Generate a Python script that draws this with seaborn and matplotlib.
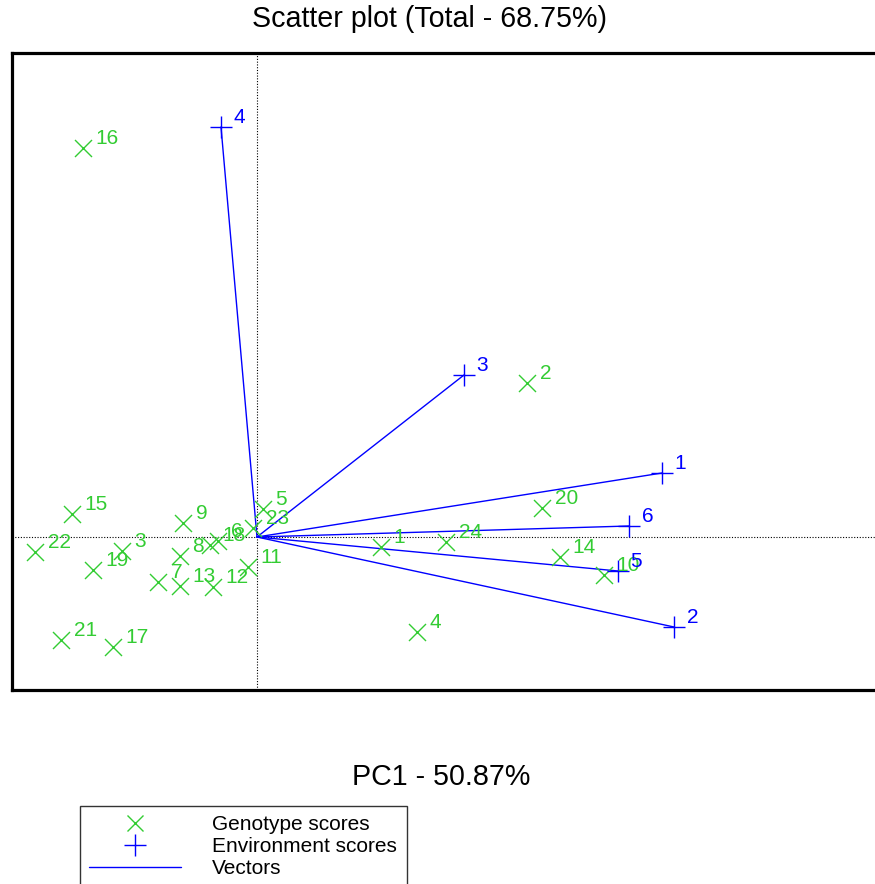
import matplotlib
matplotlib.use("Agg")
import matplotlib.pyplot as plt
from matplotlib.lines import Line2D
import seaborn as sns
import pandas as pd

# Genotype scores (PC1, PC2)
geno_labels = ["1", "2", "3", "4", "5", "6", "7", "8", "9", "10", "11", "12",
               "13", "14", "15", "16", "17", "18", "19", "20", "21", "22", "23", "24"]
geno_pc1 = [1.24, 2.70, -1.35, 1.60, 0.06, -0.39, -0.99, -0.77, -0.74, 3.47, -0.09, -0.44,
            -0.77, 3.03, -1.85, -1.74, -1.44, -0.47, -1.64, 2.85, -1.96, -2.22, -0.04, 1.89]
geno_pc2 = [-0.10, 1.54, -0.14, -0.95, 0.28, -0.04, -0.45, -0.19, 0.14, -0.38, -0.30, -0.50,
            -0.49, -0.20, 0.23, 3.89, -1.10, -0.08, -0.33, 0.29, -1.03, -0.15, 0.09, -0.05]

# Environment scores (PC1, PC2)
env_labels = ["1", "2", "3", "4", "5", "6"]
env_pc1 = [4.05, 4.17, 2.07, -0.36, 3.61, 3.72]
env_pc2 = [0.64, -0.90, 1.62, 4.10, -0.34, 0.11]

title = "Scatter plot (Total - 68.75%)"
xlabel = "PC1 - 50.87%"
legend_labels = ["Genotype scores", "Environment scores", "Vectors"]

GREEN = "#33cc33"
BLUE = "#0000ff"

sns.set_style("white")
plt.rcParams["font.family"] = ["Liberation Sans", "DejaVu Sans"]
plt.rcParams["text.color"] = "black"

geno = pd.DataFrame({"pc1": geno_pc1, "pc2": geno_pc2, "label": geno_labels})
env = pd.DataFrame({"pc1": env_pc1, "pc2": env_pc2, "label": env_labels})

fig = plt.figure(figsize=(8.75, 8.84), dpi=100)
W, H = 875, 884
ax = fig.add_axes([12 / W, 1 - 690 / H, 888 / W, 637 / H])

ax.axhline(0, color="black", lw=0.8, ls=(0, (1, 1.5)), zorder=1)
ax.axvline(0, color="black", lw=0.8, ls=(0, (1, 1.5)), zorder=1)

for _, r in env.iterrows():
    ax.plot([0, r.pc1], [0, r.pc2], color=BLUE, lw=1.0, zorder=2)

sns.scatterplot(data=geno, x="pc1", y="pc2", marker="x", color=GREEN, s=150,
                linewidth=1.0, ax=ax, zorder=3, legend=False)
sns.scatterplot(data=env, x="pc1", y="pc2", marker="+", color=BLUE, s=260,
                linewidth=1.0, ax=ax, zorder=4, legend=False)

for _, r in geno.iterrows():
    ax.annotate(r.label, (r.pc1, r.pc2), xytext=(9, 6.5), textcoords="offset points",
                color=GREEN, fontsize=15, ha="left", va="center", zorder=5)
for _, r in env.iterrows():
    ax.annotate(r.label, (r.pc1, r.pc2), xytext=(9, 6.5), textcoords="offset points",
                color=BLUE, fontsize=15, ha="left", va="center", zorder=5)

ax.set_xlim(-2.45, 6.43)
ax.set_ylim(-1.53, 4.84)
ax.set_xticks([])
ax.set_yticks([])
ax.set_xlabel("")
ax.set_ylabel("")
for s in ax.spines.values():
    s.set_linewidth(2.3)
    s.set_color("black")

fig.text(430 / W, 1 - 19 / H, title, ha="center", va="center", fontsize=20.6)
fig.text(441 / W, 1 - 777 / H, xlabel, ha="center", va="center", fontsize=20.6)

handles = [
    Line2D([], [], marker="x", color=GREEN, ls="none", markersize=12, mew=1.0),
    Line2D([], [], marker="+", color=BLUE, ls="none", markersize=16, mew=1.0),
    Line2D([], [], color=BLUE, lw=1.0),
]
leg = fig.legend(handles, legend_labels, loc="upper left",
                 bbox_to_anchor=(80 / W, 1 - 806 / H), bbox_transform=fig.transFigure,
                 frameon=True, fancybox=False, edgecolor="black", fontsize=15,
                 handlelength=4.4, handletextpad=1.5, labelspacing=0.13,
                 borderpad=0.45, borderaxespad=0)
leg.get_frame().set_linewidth(1.0)
for t in leg.get_texts():
    t.set_color("black")

fig.savefig("out.png", dpi=100)
